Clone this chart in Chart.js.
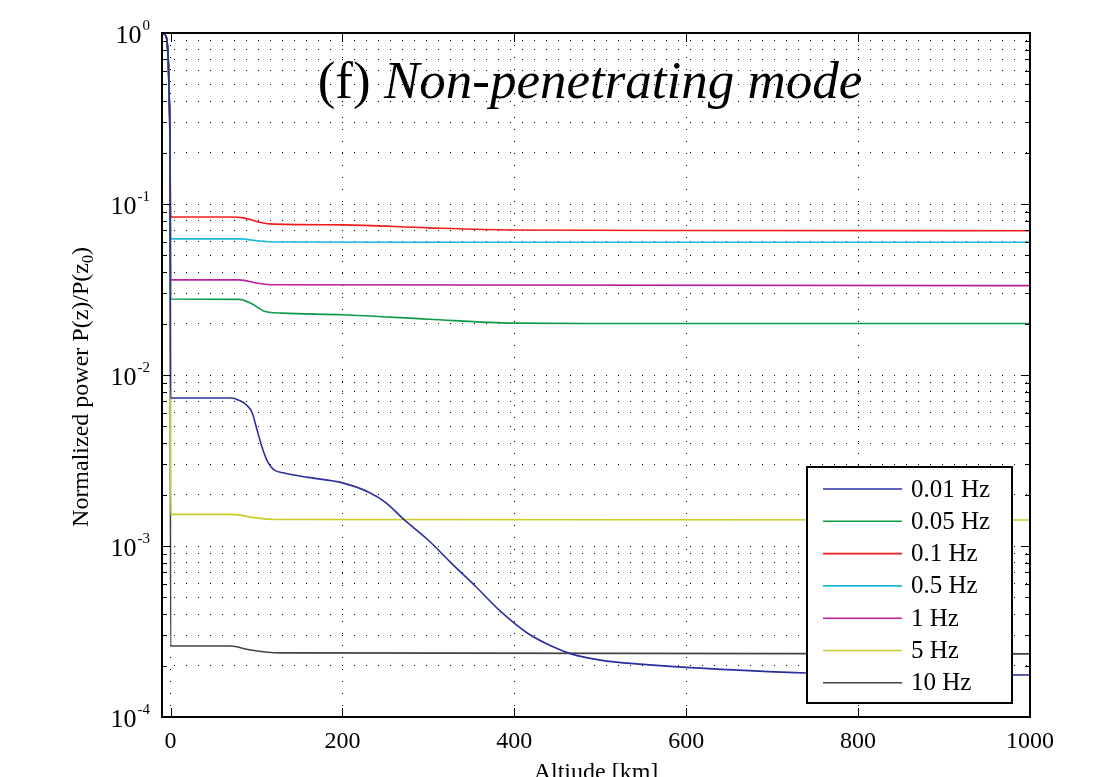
<!DOCTYPE html>
<html>
<head>
<meta charset="utf-8">
<script src="https://cdn.jsdelivr.net/npm/chart.js@4"></script>
<style>
  body { margin: 0; background: #fff; }
  #wrap { width: 1100px; height: 777px; }
</style>
</head>
<body>
<div id="wrap"><canvas id="powerChart" width="1100" height="777"></canvas></div>
<script>
// altitude [km] / normalized power
const labels = ['0.01 Hz', '0.05 Hz', '0.1 Hz', '0.5 Hz', '1 Hz', '5 Hz', '10 Hz'];
const colors = ['#2b2f9e', '#0f9a48', '#f01c1c', '#1cb8d8', '#b8219e', '#cccc2a', '#444444'];

// shared steep drop just below z=0
const dropZ = [-9.5, -6, -4, -2.5, -1.5, -0.6];
const dropP = [1.0, 0.97, 0.88, 0.65, 0.4, 0.2];

const z001 = [0, 70, 80, 88, 95, 101, 107, 113, 120, 132, 160, 200, 230, 250, 272, 300, 326, 355, 385, 415, 443, 466, 500, 550, 600, 740, 1000];
const p001 = [0.00733, 0.00733, 0.0071, 0.0067, 0.0060, 0.0047, 0.0037, 0.0031, 0.0028, 0.00267, 0.00252, 0.00234, 0.00207, 0.0018, 0.00142, 0.00108, 0.0008, 0.00058, 0.00041, 0.00031, 0.00026, 0.000234, 0.000215, 0.000203, 0.000195, 0.000181, 0.000176];

const z005 = [0, 80, 95, 110, 130, 200, 300, 400, 500, 1000];
const p005 = [0.0278, 0.0277, 0.026, 0.0235, 0.023, 0.0225, 0.0212, 0.0201, 0.0200, 0.0200];

const z01 = [0, 70, 85, 100, 115, 200, 300, 400, 600, 1000];
const p01 = [0.084, 0.084, 0.083, 0.079, 0.0765, 0.0755, 0.0725, 0.0705, 0.0700, 0.0698];

const z05 = [0, 80, 100, 120, 400, 1000];
const p05 = [0.0625, 0.0625, 0.061, 0.0600, 0.0597, 0.0597];

const z1 = [0, 80, 100, 120, 1000];
const p1 = [0.036, 0.036, 0.0345, 0.0337, 0.0333];

const z5 = [0, 70, 100, 120, 1000];
const p5 = [0.00153, 0.00153, 0.00146, 0.00143, 0.00142];

const z10 = [0, 70, 90, 110, 130, 1000];
const p10 = [0.00026, 0.00026, 0.000248, 0.00024, 0.000237, 0.000234];

const xTicks = [0, 200, 400, 600, 800, 1000];
const yDecades = [-4, -3, -2, -1, 0];

const allZ = [z001, z005, z01, z05, z1, z5, z10];
const allP = [p001, p005, p01, p05, p1, p5, p10];

function series(zs, ps) {
    const pts = dropZ.map((z, i) => ({ x: z, y: dropP[i] }));
    zs.forEach((z, i) => pts.push({ x: z, y: ps[i] }));
    return pts;
}

const datasets = labels.map((lab, i) => ({
    label: lab,
    data: series(allZ[i], allP[i]),
    borderColor: colors[i],
    borderWidth: 1.6,
    pointRadius: 0,
    fill: false,
    cubicInterpolationMode: 'monotone'
}));

const serif = '"Liberation Serif", "DejaVu Serif", serif';

// frame, inward ticks, tick labels, titles and legend
const decorPlugin = {
    id: 'decor',
    afterDraw(chart) {
        const ctx = chart.ctx;
        const a = chart.chartArea;
        const xs = chart.scales.x, ys = chart.scales.y;
        ctx.save();
        ctx.strokeStyle = '#000';
        ctx.lineWidth = 1;
        // ticks
        ctx.beginPath();
        ys.ticks.forEach(t => {
            const py = Math.round(ys.getPixelForValue(t.value)) + 0.5;
            const major = Number.isInteger(Math.round(Math.log10(t.value) * 1000) / 1000);
            const len = major ? 9 : 5;
            ctx.moveTo(a.left, py); ctx.lineTo(a.left + len, py);
            ctx.moveTo(a.right, py); ctx.lineTo(a.right - len, py);
        });
        xTicks.forEach(v => {
            const px = Math.round(xs.getPixelForValue(v)) + 0.5;
            ctx.moveTo(px, a.bottom); ctx.lineTo(px, a.bottom - 9);
            ctx.moveTo(px, a.top); ctx.lineTo(px, a.top + 9);
        });
        ctx.stroke();
        // frame
        ctx.lineWidth = 2;
        ctx.strokeRect(a.left, a.top, a.right - a.left, a.bottom - a.top);

        ctx.fillStyle = '#000';
        // x tick labels
        ctx.font = '24px ' + serif;
        ctx.textAlign = 'center';
        ctx.textBaseline = 'middle';
        xTicks.forEach(v => ctx.fillText(String(v), xs.getPixelForValue(v), a.bottom + 25));
        // y tick labels 10^n
        yDecades.forEach(e => {
            const py = ys.getPixelForValue(Math.pow(10, e));
            const sup = String(e);
            ctx.font = '15px ' + serif;
            const sw = ctx.measureText(sup).width;
            ctx.textAlign = 'left';
            ctx.textBaseline = 'alphabetic';
            const right = a.left - 14;
            ctx.fillText(sup, right - sw + 2, py - 3);
            ctx.font = '26px ' + serif;
            ctx.textAlign = 'right';
            ctx.fillText('10', right - sw + 1, py + 10);
        });
        // axis titles
        ctx.font = '24px ' + serif;
        ctx.textAlign = 'center';
        ctx.textBaseline = 'alphabetic';
        ctx.fillText('Altiude [km]', (a.left + a.right) / 2, a.bottom + 62);
        ctx.save();
        ctx.translate(88, (a.top + a.bottom) / 2 + 12);
        ctx.rotate(-Math.PI / 2);
        const yt1 = 'Normalized power P(z)/P(z';
        ctx.font = '24px ' + serif;
        const w1 = ctx.measureText(yt1).width;
        ctx.font = '16px ' + serif;
        const w2 = ctx.measureText('0').width;
        ctx.font = '24px ' + serif;
        const w3 = ctx.measureText(')').width;
        let sx = -(w1 + w2 + w3) / 2;
        ctx.textAlign = 'left';
        ctx.fillText(yt1, sx, 0);
        ctx.font = '16px ' + serif;
        ctx.fillText('0', sx + w1, 5);
        ctx.font = '24px ' + serif;
        ctx.fillText(')', sx + w1 + w2, 0);
        ctx.restore();

        // panel title
        ctx.textAlign = 'left';
        ctx.font = '53px ' + serif;
        const tA = '(f) ';
        const wA = ctx.measureText(tA).width;
        ctx.font = 'italic 53px ' + serif;
        const tB = 'Non-penetrating mode';
        const wB = ctx.measureText(tB).width;
        const tx = 590 - (wA + wB) / 2;
        ctx.font = '53px ' + serif;
        ctx.fillText(tA, tx, 98);
        ctx.font = 'italic 53px ' + serif;
        ctx.fillText(tB, tx + wA, 98);

        // legend
        const lx = 807, ly = 467, lw = 205, lh = 236;
        ctx.fillStyle = '#fff';
        ctx.fillRect(lx, ly, lw, lh);
        ctx.lineWidth = 2;
        ctx.strokeRect(lx, ly, lw, lh);
        ctx.font = '25px ' + serif;
        ctx.textBaseline = 'middle';
        chart.data.datasets.forEach((ds, i) => {
            const cy = ly + 22 + i * 32.3;
            ctx.strokeStyle = ds.borderColor;
            ctx.lineWidth = 1.6;
            ctx.beginPath();
            ctx.moveTo(lx + 16, cy); ctx.lineTo(lx + 95, cy);
            ctx.stroke();
            ctx.fillStyle = '#000';
            ctx.fillText(ds.label, lx + 104, cy + 1);
        });
        ctx.restore();
    }
};

const minorTicks = [];
for (let e = -4; e < 0; e++) {
    for (let m = 1; m < 10; m++) minorTicks.push(m * Math.pow(10, e));
}
minorTicks.push(1);

new Chart(document.getElementById('powerChart'), {
    type: 'line',
    data: { datasets: datasets },
    options: {
        responsive: false,
        animation: false,
        layout: { padding: { left: 162, right: 70, top: 33, bottom: 60 } },
        plugins: { legend: { display: false }, tooltip: { enabled: false } },
        scales: {
            x: {
                type: 'linear',
                min: -10,
                max: 1000,
                afterBuildTicks: s => { s.ticks = xTicks.map(v => ({ value: v })); },
                ticks: { display: false },
                border: { display: false, dash: [1, 11] },
                grid: { drawTicks: false, color: '#000', lineWidth: 1 }
            },
            y: {
                type: 'logarithmic',
                min: 1e-4,
                max: 1,
                afterBuildTicks: s => { s.ticks = minorTicks.map(v => ({ value: v })); },
                ticks: { display: false },
                border: { display: false, dash: [1, 11] },
                grid: { drawTicks: false, color: '#000', lineWidth: 1 }
            }
        }
    },
    plugins: [decorPlugin]
});
</script>
</body>
</html>
